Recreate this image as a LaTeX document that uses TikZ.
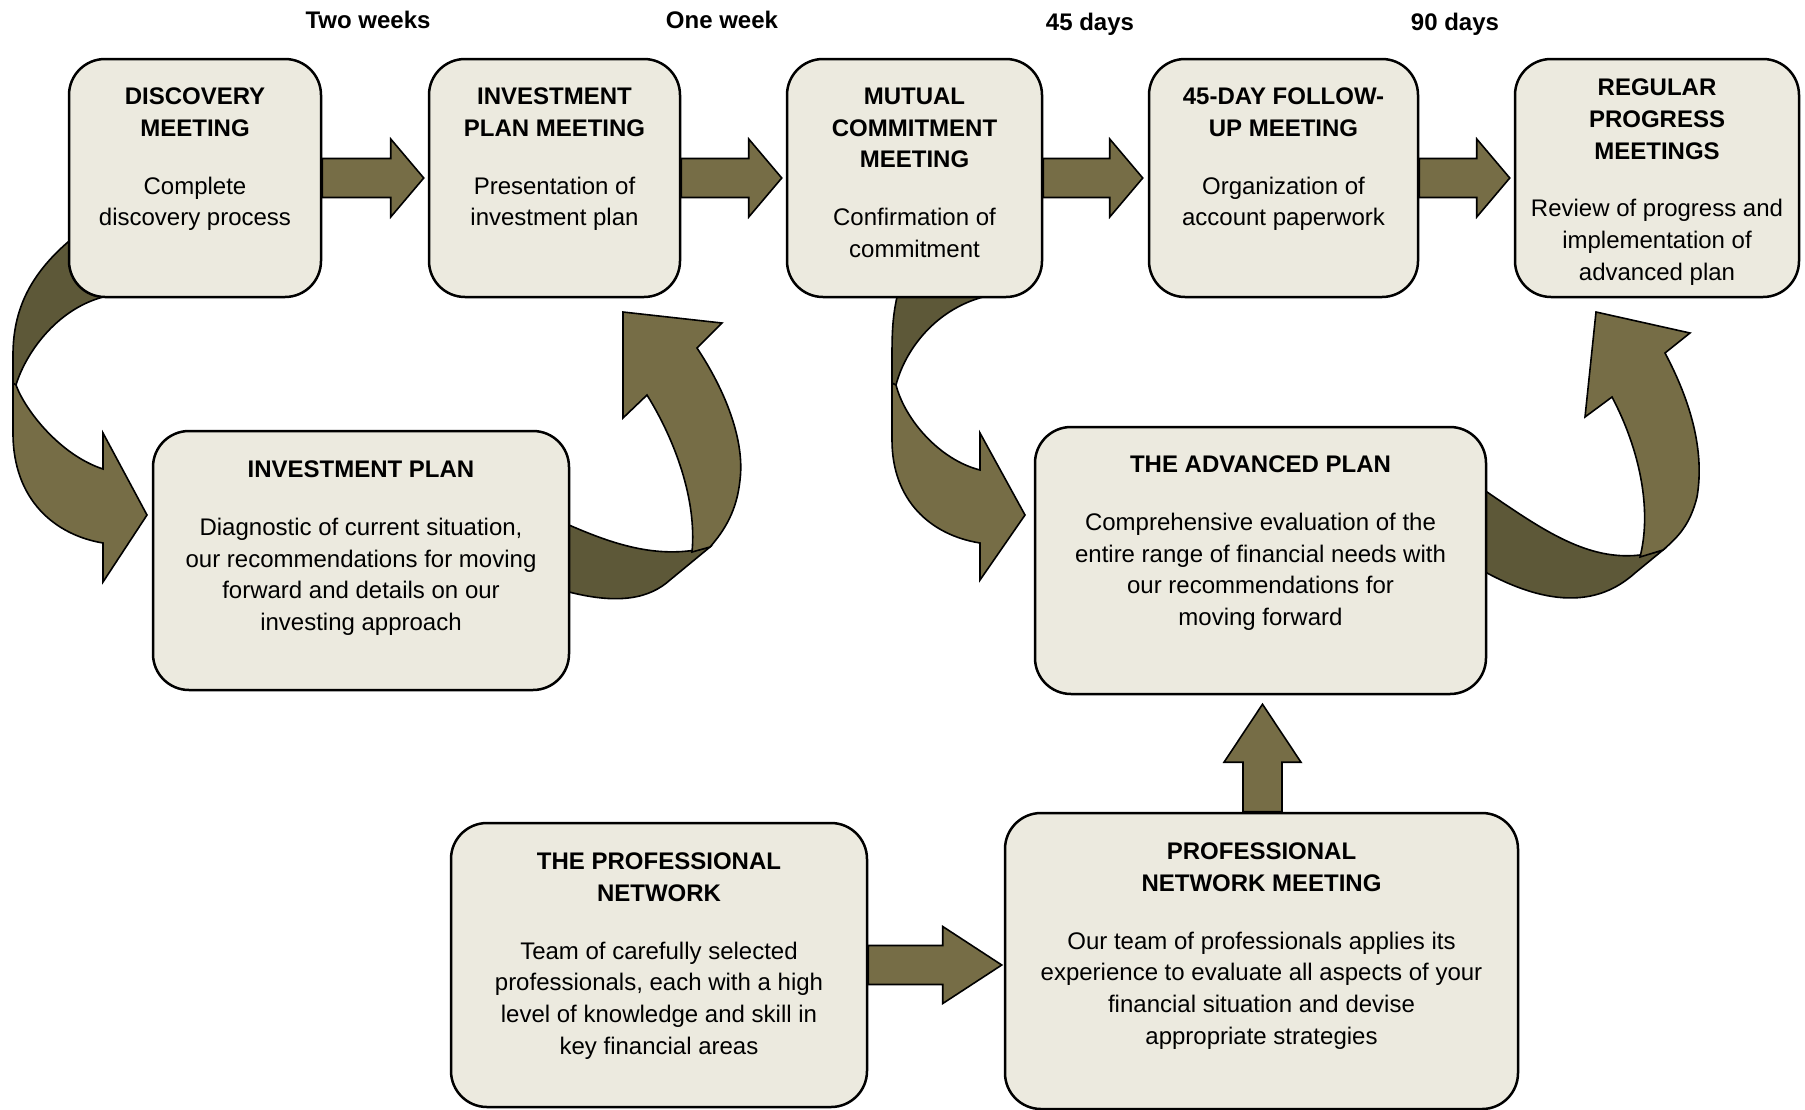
\documentclass[tikz,border=0pt]{standalone}
\usepackage{fontspec}
\setmainfont{Liberation Sans}
\usetikzlibrary{calc}
\definecolor{boxfill}{HTML}{ECEADF}
\definecolor{olivea}{HTML}{766D46}
\definecolor{oliveb}{HTML}{5D5838}
\newcommand\T[1]{\textbf{#1}}
% horizontal block arrow: from, to, head length, gap, head half-height
\newcommand\harrow[5]{%
  \coordinate (#1#2tip) at ($(#2.west |- #1.east)+(-#4,0)$);
  \draw[blk] ($(#1.east)+(0,-19.5)$) -- ($(#1#2tip)+(-#3,-19.5)$) -- ($(#1#2tip)+(-#3,-#5)$) -- (#1#2tip)
    -- ($(#1#2tip)+(-#3,#5)$) -- ($(#1#2tip)+(-#3,19.5)$) -- ($(#1.east)+(0,19.5)$) -- cycle;}
\tikzset{
  box/.style={draw=black, line width=2.5pt, fill=boxfill, rounded corners=36pt, inner sep=0pt},
  txt/.style={align=center, inner sep=0pt, anchor=north},
  blk/.style={draw=black, line width=1.6pt, fill=olivea, line join=miter},
  blkdark/.style={draw=black, line width=1.6pt, fill=oliveb, line join=miter},
  lbl/.style={inner sep=0pt, anchor=base, font=\fontsize{24}{30}\selectfont\bfseries},
}
\begin{document}
\begin{tikzpicture}[x=1pt, y=-1pt, font=\fontsize{24}{31.7}\selectfont]
\useasboundingbox (0,0) rectangle (1805,1109);
% box coordinates (centres)
\coordinate (c1) at (195,178);
\coordinate (c2) at (554.5,178);
\coordinate (c3) at (914.5,178);
\coordinate (c4) at (1283.5,178);
\coordinate (c5) at (1657,178);
\coordinate (c6) at (361,560.5);
\coordinate (c7) at (1260.5,560.5);
\coordinate (c8) at (659,965);
\coordinate (c9) at (1261.5,960);

% ---- curved arrows (behind boxes)
% 1: discovery -> investment plan
\draw[blkdark] (68,242) .. controls (30,275) and (13,310) .. (13,355) -- (13,390) -- (16,385)
  .. controls (25,355) and (55,310) .. (103,297) -- (95,260) -- cycle;
\draw[blk] (13,383) -- (13,433) .. controls (13,500) and (55,535) .. (103,543) -- (103,582) -- (147,515)
  -- (103,433) -- (103,469) .. controls (60,455) and (25,410) .. (16,385) -- cycle;
% 2: investment plan -> investment plan meeting
\draw[blkdark] (555,525) -- (569,525) .. controls (615,545) and (660,560) .. (710,547) -- (670,580)
  .. controls (650,598) and (620,605) .. (569,592) -- (555,592) -- cycle;
\draw[blk] (692,552) .. controls (697,500) and (675,440) .. (647,395) -- (623,418) -- (623,312) -- (722,323)
  -- (697,348) .. controls (725,390) and (745,440) .. (740,480) .. controls (737,510) and (725,530) .. (710,547) -- cycle;
% 3: mutual commitment -> advanced plan
\draw[blkdark] (897,297) .. controls (893,315) and (892,330) .. (892,355) -- (892,390) -- (896,385)
  .. controls (905,350) and (935,310) .. (983,297) -- (940,280) -- cycle;
\draw[blk] (892,383) -- (892,440) .. controls (892,500) and (930,535) .. (980,543) -- (980,580) -- (1025,515)
  -- (980,433) -- (980,470) .. controls (940,460) and (905,420) .. (896,385) -- cycle;
% 4: advanced plan -> regular progress meetings
\draw[blkdark] (1475,492) -- (1487,492) .. controls (1550,535) and (1600,570) .. (1663,550) -- (1635,573)
  .. controls (1605,600) and (1560,612) .. (1487,573) -- (1475,573) -- cycle;
\draw[blk] (1640,557) .. controls (1652,510) and (1640,450) .. (1612,397) -- (1585,417) -- (1596,312) -- (1690,333)
  -- (1665,353) .. controls (1690,400) and (1705,450) .. (1697,497) .. controls (1690,525) and (1678,537) .. (1663,550) -- cycle;

% ---- boxes
\node[box, minimum width=252pt, minimum height=238pt] (b1) at (c1) {};
\node[box, minimum width=251pt, minimum height=238pt] (b2) at (c2) {};
\node[box, minimum width=255pt, minimum height=238pt] (b3) at (c3) {};
\node[box, minimum width=269pt, minimum height=238pt] (b4) at (c4) {};
\node[box, minimum width=284pt, minimum height=238pt] (b5) at (c5) {};
\node[box, minimum width=416pt, minimum height=259pt] (b6) at (c6) {};
\node[box, minimum width=451pt, minimum height=267pt] (b7) at (c7) {};
\node[box, minimum width=416pt, minimum height=284pt] (b8) at (c8) {};
\node[box, minimum width=513pt, minimum height=296pt] (b9) at ($(c9)+(0,1)$) {};

% ---- straight block arrows
\harrow{b1}{b2}{33}{4}{39}
\harrow{b2}{b3}{33}{4}{39}
\harrow{b3}{b4}{33}{5}{39}
\harrow{b4}{b5}{33}{4}{39}
\harrow{b8}{b9}{59}{2}{38.5}
\coordinate (vtip) at ($(b9.north |- b7.south)+(1,9)$);
\draw[blk] ($(b9.north)+(-18.5,0)$) -- ($(vtip)+(-19.5,58)$) -- ($(vtip)+(-38.5,58)$) -- (vtip)
  -- ($(vtip)+(38.5,58)$) -- ($(vtip)+(19.5,58)$) -- ($(b9.north)+(20.5,0)$) -- cycle;

% ---- texts
\node[txt] (t1) at ($(b1.north)+(0,30)$) {\T{DISCOVERY}\\\T{MEETING}\\[26pt]Complete\\discovery process};
\node[txt] (t2) at ($(b2.north)+(0,30)$) {\T{INVESTMENT}\\\T{PLAN MEETING}\\[26pt]Presentation of\\investment plan};
\node[txt] (t3) at ($(b3.north)+(0,30)$) {\T{MUTUAL}\\\T{COMMITMENT}\\\T{MEETING}\\[26pt]Confirmation of\\commitment};
\node[txt] (t4) at ($(b4.north)+(0,30)$) {\T{45-DAY FOLLOW-}\\\T{UP MEETING}\\[26pt]Organization of\\account paperwork};
\node[txt] (t5) at ($(b5.north)+(0,21)$) {\T{REGULAR}\\\T{PROGRESS}\\\T{MEETINGS}\\[26pt]Review of progress and\\implementation of\\advanced plan};
\node[txt] (t6) at ($(b6.north)+(0,31)$) {\T{INVESTMENT PLAN}\\[26pt]Diagnostic of current situation,\\our recommendations for moving\\forward and details on our\\investing approach};
\node[txt] (t7) at ($(b7.north)+(0,30)$) {\T{THE ADVANCED PLAN}\\[26pt]Comprehensive evaluation of the\\entire range of financial needs with\\our recommendations for\\moving forward};
\node[txt] (t8) at ($(b8.north)+(0,31)$) {\T{THE PROFESSIONAL}\\\T{NETWORK}\\[26pt]Team of carefully selected\\professionals, each with a high\\level of knowledge and skill in\\key financial areas};
\node[txt] (t9) at ($(b9.north)+(0,31)$) {\T{PROFESSIONAL}\\\T{NETWORK MEETING}\\[26pt]Our team of professionals applies its\\experience to evaluate all aspects of your\\financial situation and devise\\appropriate strategies};

% ---- time labels
\node[lbl] (l1) at (368,28) {Two weeks};
\node[lbl] (l2) at (722,28) {One week};
\node[lbl] (l3) at (1090,30.5) {45 days};
\node[lbl] (l4) at (1455,30.5) {90 days};
\end{tikzpicture}
\end{document}
